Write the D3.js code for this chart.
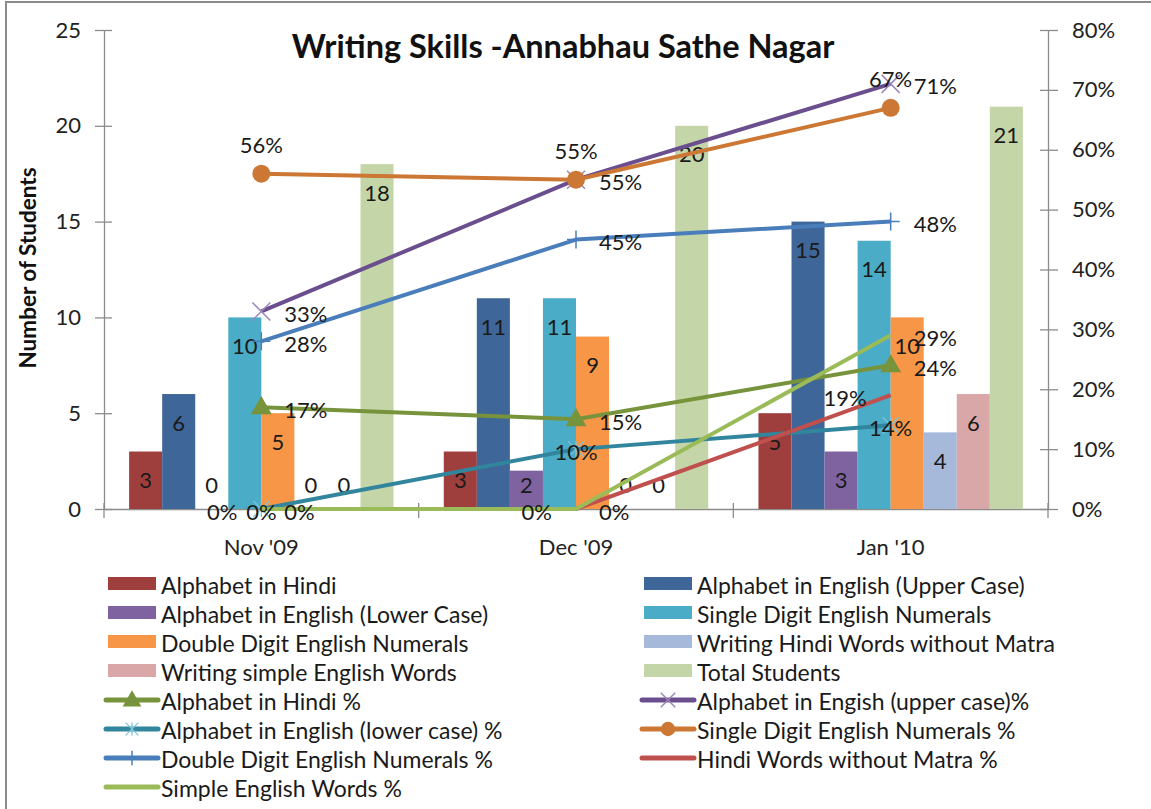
<!DOCTYPE html>
<html>
<head>
<meta charset="utf-8">
<script src="https://cdn.jsdelivr.net/npm/d3@7"></script>
<style>
body{margin:0;background:#fff;}
svg{display:block;font-family:Lato,"Open Sans",sans-serif;}
</style>
</head>
<body>
<svg id="c" width="1151" height="809"></svg>
<script>
const categories = ["Nov '09", "Dec '09", "Jan '10"];
const barSeries = ["Alphabet in Hindi","Alphabet in English (Upper Case)","Alphabet in English (Lower Case)","Single Digit English Numerals","Double Digit English Numerals","Writing Hindi Words without Matra","Writing simple English Words","Total Students"];
const barColors = ["#9E3F3E","#3F6698","#7F62A0","#4AACC6","#F79646","#A7B9DA","#D9A7A7","#C4D6A8"];
const alphabetHindi = [3,3,5];
const upperCase = [6,11,15];
const lowerCase = [0,2,3];
const singleDigit = [10,11,14];
const doubleDigit = [5,9,10];
const hindiWords = [0,0,4];
const simpleWords = [0,0,6];
const totalStudents = [18,20,21];
const barValues = [alphabetHindi,upperCase,lowerCase,singleDigit,doubleDigit,hindiWords,simpleWords,totalStudents];

const lineSeries = ["Alphabet in Hindi %","Alphabet in Engish (upper case)%","Alphabet in English (lower case) %","Single Digit English Numerals %","Double Digit English Numerals %","Hindi Words without Matra %","Simple English Words %"];
const lineColors = ["#77933C","#6A4E8E","#31859C","#CC7733","#4A7EBB","#C0504D","#9BBB59"];
const lineMarkers = ["triangle","x","star","circle","plus","none","none"];
const labelPos = ["right","right","center","above","right","left","right"];
const hindiPct = [0.17,0.15,0.24];
const upperPct = [0.33,0.55,0.71];
const lowerPct = [0.00,0.10,0.14];
const singlePct = [0.56,0.55,0.67];
const doublePct = [0.28,0.45,0.48];
const hindiWordsPct = [0.00,0.00,0.19];
const simplePct = [0.00,0.00,0.29];
const lineValues = [hindiPct,upperPct,lowerPct,singlePct,doublePct,hindiWordsPct,simplePct];

const leftTicks = [0,5,10,15,20,25];
const rightTicks = [0,0.1,0.2,0.3,0.4,0.5,0.6,0.7,0.8];

const svg = d3.select("#c");
const L=104, R=1048, T=30, B=509;

// frame
svg.append("rect").attr("x",6).attr("y",2).attr("width",1160).attr("height",820)
  .attr("fill","none").attr("stroke","#8c8c8c").attr("stroke-width",2);

const x0 = d3.scaleBand().domain(categories).range([L,R]).paddingInner(0).paddingOuter(0);
const x1 = d3.scaleBand().domain(barSeries).range([0,x0.bandwidth()]).paddingInner(0).paddingOuter(0.76);
const yL = d3.scaleLinear().domain([0,25]).range([B,T]);
const yR = d3.scaleLinear().domain([0,0.8]).range([B,T]);

const fs = 22;
// axes
const axL = d3.axisLeft(yL).tickValues(leftTicks).tickSizeInner(9).tickSizeOuter(0).tickPadding(14);
const gL = svg.append("g").attr("transform",`translate(${L},0)`).call(axL);
gL.selectAll("line").attr("x2",-9).attr("x1",8);
const axR = d3.axisRight(yR).tickValues(rightTicks).tickFormat(d3.format(".0%")).tickSizeInner(10).tickSizeOuter(0).tickPadding(14);
const gR = svg.append("g").attr("transform",`translate(${R},0)`).call(axR);
gR.selectAll("line").attr("x1",-8).attr("x2",10);
const axB = d3.axisBottom(x0).tickSize(0).tickPadding(30);
const gB = svg.append("g").attr("transform",`translate(0,${B})`).call(axB);
[gL,gR,gB].forEach(g=>{
  g.select(".domain").attr("stroke","#8c8c8c").attr("stroke-width",1.3);
  g.selectAll("line").attr("stroke","#8c8c8c").attr("stroke-width",1.3);
  g.selectAll("text").attr("font-family","Lato, sans-serif").attr("font-size",fs).attr("fill","#222");
});
// category boundary ticks
const bounds = categories.map(c=>x0(c)).concat([R]);
svg.append("g").selectAll("line").data(bounds).join("line")
  .attr("x1",d=>d).attr("x2",d=>d).attr("y1",B-6).attr("y2",B+9)
  .attr("stroke","#8c8c8c").attr("stroke-width",1.3);

// bars
const gBars = svg.append("g");
barSeries.forEach((s,si)=>{
  categories.forEach((c,ci)=>{
    const v = barValues[si][ci];
    const x = x0(c)+x1(s);
    gBars.append("rect").attr("x",x).attr("y",yL(v)).attr("width",x1.bandwidth()).attr("height",B-yL(v)).attr("fill",barColors[si]);
  });
});
// bar labels
barSeries.forEach((s,si)=>{
  categories.forEach((c,ci)=>{
    const v = barValues[si][ci];
    const x = x0(c)+x1(s)+x1.bandwidth()/2;
    const y = Math.min(yL(v)+28, B-25);
    gBars.append("text").attr("x",x).attr("y",y).attr("text-anchor","middle").attr("dominant-baseline","central")
      .attr("font-size",fs).attr("fill","#1a1a1a").text(v);
  });
});

// lines
const cx = c=>x0(c)+x0.bandwidth()/2;
const gLines = svg.append("g");
lineSeries.forEach((s,si)=>{
  const pts = categories.map((c,ci)=>[cx(c), yR(lineValues[si][ci])]);
  gLines.append("path").attr("d",d3.line()(pts)).attr("fill","none").attr("stroke",lineColors[si]).attr("stroke-width",4).attr("stroke-linejoin","round");
  pts.forEach(p=>drawMarker(gLines,lineMarkers[si],p[0],p[1],lineColors[si],1));
});
function drawMarker(g,m,x,y,col,sc){
  if(m==="triangle"){
    g.append("path").attr("d",d3.symbol().type(d3.symbolTriangle).size(190*sc)()).attr("transform",`translate(${x},${y+1})`).attr("fill",col);
  } else if(m==="circle"){
    g.append("circle").attr("cx",x).attr("cy",y).attr("r",9*sc).attr("fill",col);
  } else if(m==="x"){
    const r=9*sc;
    g.append("path").attr("d",`M${x-r},${y-r}L${x+r},${y+r}M${x-r},${y+r}L${x+r},${y-r}`).attr("stroke","#9d86b8").attr("stroke-width",1.5);
  } else if(m==="plus"){
    const r=9*sc;
    g.append("path").attr("d",`M${x-r},${y}L${x+r},${y}M${x},${y-r}L${x},${y+r}`).attr("stroke",col).attr("stroke-width",1.5);
  } else if(m==="star"){
    const r=8*sc;
    g.append("path").attr("d",`M${x-r},${y-r}L${x+r},${y+r}M${x-r},${y+r}L${x+r},${y-r}M${x},${y-r}L${x},${y+r}`).attr("stroke","#7fc4d8").attr("stroke-width",1.3);
  }
}
// line labels
lineSeries.forEach((s,si)=>{
  categories.forEach((c,ci)=>{
    const v = lineValues[si][ci];
    let x = cx(c), y = yR(v), anchor="middle";
    const pos = labelPos[si];
    if(pos==="right"){x+=23; anchor="start";}
    else if(pos==="left"){x-=24; anchor="end";}
    else if(pos==="above"){y-=31;}
    gLines.append("text").attr("x",x).attr("y",y+2).attr("text-anchor",anchor).attr("dominant-baseline","central")
      .attr("font-size",fs).attr("fill","#1a1a1a").text(d3.format(".0%")(v));
  });
});

// title
svg.append("text").attr("x",563).attr("y",45).attr("text-anchor","middle").attr("dominant-baseline","central")
  .attr("font-size",32.5).attr("font-weight","bold").attr("fill","#111").text("Writing Skills -Annabhau Sathe Nagar");
// y title
svg.append("text").attr("transform","translate(27,268) rotate(-90)").attr("text-anchor","middle").attr("dominant-baseline","central")
  .attr("font-size",22.5).attr("font-weight","bold").attr("fill","#111").text("Number of Students");

// legend
const legendItems = [];
barSeries.forEach((s,i)=>legendItems.push({name:s,type:"bar",color:barColors[i]}));
lineSeries.forEach((s,i)=>legendItems.push({name:s,type:"line",color:lineColors[i],marker:lineMarkers[i]}));
const gLeg = svg.append("g");
legendItems.forEach((d,i)=>{
  const col = i%2, row = Math.floor(i/2);
  const sx = col===0?108:644, y = 584 + row*29;
  if(d.type==="bar"){
    gLeg.append("rect").attr("x",sx).attr("y",y-7).attr("width",48).attr("height",13).attr("fill",d.color);
  } else {
    gLeg.append("line").attr("x1",sx-2).attr("x2",sx+50).attr("y1",y).attr("y2",y).attr("stroke",d.color).attr("stroke-width",5).attr("stroke-linecap","round");
    drawMarker(gLeg,d.marker,sx+24,y,d.color,0.8);
  }
  gLeg.append("text").attr("x",sx+53).attr("y",y+1).attr("dominant-baseline","central").attr("font-size",23).attr("fill","#1a1a1a").text(d.name);
});
</script>
</body>
</html>
